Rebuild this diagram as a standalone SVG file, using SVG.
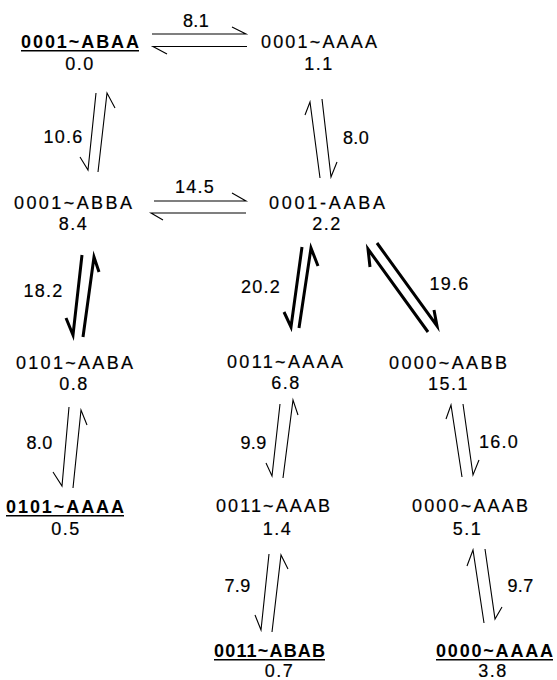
<svg xmlns="http://www.w3.org/2000/svg" width="557" height="680" viewBox="0 0 557 680">
  <style>
    text { font-family: "Liberation Sans", Arial, Helvetica, sans-serif; font-size: 18px; fill: #000; stroke: #000; stroke-width: 0.2; }
    .low { font-weight: bold; stroke-width: 0; }
    .val { text-anchor: middle; letter-spacing: 1.5px; }
    .rate { text-anchor: middle; letter-spacing: 1.3px; }
    .rate.tight { letter-spacing: 0.3px; }
    .ul { stroke: #000; stroke-width: 1.6; }
    .arr { fill: none; stroke: #000; stroke-width: 1.1; stroke-linejoin: miter; stroke-miterlimit: 10; }
    .arr.bold { stroke-width: 3; }
  </style>

  <!-- states: conformer name and relative energy -->
  <g id="s-0001-ABAA">
    <text class="low" x="21" y="48" textLength="118">0001~ABAA</text>
    <line class="ul" x1="21" y1="50.8" x2="139" y2="50.8"/>
    <text class="val" x="80" y="70">0.0</text>
  </g>
  <g id="s-0001-AAAA">
    <text x="261" y="48" textLength="116">0001~AAAA</text>
    <text class="val" x="319" y="70">1.1</text>
  </g>
  <g id="s-0001-ABBA">
    <text x="14" y="209" textLength="118">0001~ABBA</text>
    <text class="val" x="73.5" y="230">8.4</text>
  </g>
  <g id="s-0001-AABA">
    <text x="269" y="209" textLength="116">0001-AABA</text>
    <text class="val" x="327" y="230">2.2</text>
  </g>
  <g id="s-0101-AABA">
    <text x="16" y="369" textLength="117">0101~AABA</text>
    <text class="val" x="74" y="390">0.8</text>
  </g>
  <g id="s-0011-AAAA">
    <text x="227" y="368" textLength="116">0011~AAAA</text>
    <text class="val" x="286" y="389">6.8</text>
  </g>
  <g id="s-0000-AABB">
    <text x="389" y="369" textLength="118">0000~AABB</text>
    <text class="val" x="448.5" y="390">15.1</text>
  </g>
  <g id="s-0101-AAAA">
    <text class="low" x="6" y="513" textLength="118">0101~AAAA</text>
    <line class="ul" x1="6" y1="515.8" x2="124" y2="515.8"/>
    <text class="val" x="66" y="535">0.5</text>
  </g>
  <g id="s-0011-AAAB">
    <text x="216" y="512" textLength="114">0011~AAAB</text>
    <text class="val" x="277.5" y="535">1.4</text>
  </g>
  <g id="s-0000-AAAB">
    <text x="412" y="512" textLength="116">0000~AAAB</text>
    <text class="val" x="467.5" y="535">5.1</text>
  </g>
  <g id="s-0011-ABAB">
    <text class="low" x="214" y="657" textLength="111">0011~ABAB</text>
    <line class="ul" x1="214" y1="659.8" x2="325" y2="659.8"/>
    <text class="val" x="279.5" y="677">0.7</text>
  </g>
  <g id="s-0000-AAAA">
    <text class="low" x="436" y="657" textLength="117">0000~AAAA</text>
    <line class="ul" x1="436" y1="659.8" x2="553" y2="659.8"/>
    <text class="val" x="493" y="677">3.8</text>
  </g>

  <!-- equilibrium half-arrows with barrier heights -->
  <g id="connectors">
    <path class="arr" d="M152,34 H246 L232,27"/>
    <path class="arr" d="M247,46.5 H153 L167,54"/>
    <text class="rate tight" x="196" y="27">8.1</text>

    <path class="arr" d="M96,93 L88,170 L80,157"/>
    <path class="arr" d="M98,172 L107,93 L115,108"/>
    <text class="rate" x="63.5" y="143">10.6</text>

    <path class="arr" d="M320,178 L310,102 L305,115"/>
    <path class="arr" d="M322,99 L331,177 L337,162"/>
    <text class="rate tight" x="356" y="144">8.0</text>

    <path class="arr" d="M154,201 H246 L232,193"/>
    <path class="arr" d="M246,213 H151 L163,220"/>
    <text class="rate" x="195" y="193">14.5</text>

    <path class="arr bold" d="M82,255 L73,335 L66,318"/>
    <path class="arr bold" d="M83,337 L94,257 L99,272"/>
    <text class="rate" x="43.5" y="297">18.2</text>

    <path class="arr bold" d="M302,247 L291,327 L284,312"/>
    <path class="arr bold" d="M299,328 L311,248 L318,266"/>
    <text class="rate" x="261" y="293">20.2</text>

    <path class="arr bold" d="M428,332 L368,249 L370,267"/>
    <path class="arr bold" d="M377,243 L437,326 L434,310"/>
    <text class="rate" x="449.5" y="290">19.6</text>

    <path class="arr" d="M69,407 L62,486 L53,472"/>
    <path class="arr" d="M73,488 L81,410 L87,425"/>
    <text class="rate tight" x="39.5" y="449">8.0</text>

    <path class="arr" d="M280,404 L272,476 L266,463"/>
    <path class="arr" d="M283,478 L293,400 L298,415"/>
    <text class="rate tight" x="253.5" y="449">9.9</text>

    <path class="arr" d="M462,477 L451,405 L446,419"/>
    <path class="arr" d="M463,404 L473,475 L479,460"/>
    <text class="rate" x="499" y="448">16.0</text>

    <path class="arr" d="M269,554 L261,630 L255,615"/>
    <path class="arr" d="M272,632 L281,555 L288,569"/>
    <text class="rate tight" x="237.5" y="592">7.9</text>

    <path class="arr" d="M484,623 L473,550 L467,566"/>
    <path class="arr" d="M485,549 L495,619 L502,607"/>
    <text class="rate tight" x="520.5" y="592">9.7</text>
  </g>
</svg>
